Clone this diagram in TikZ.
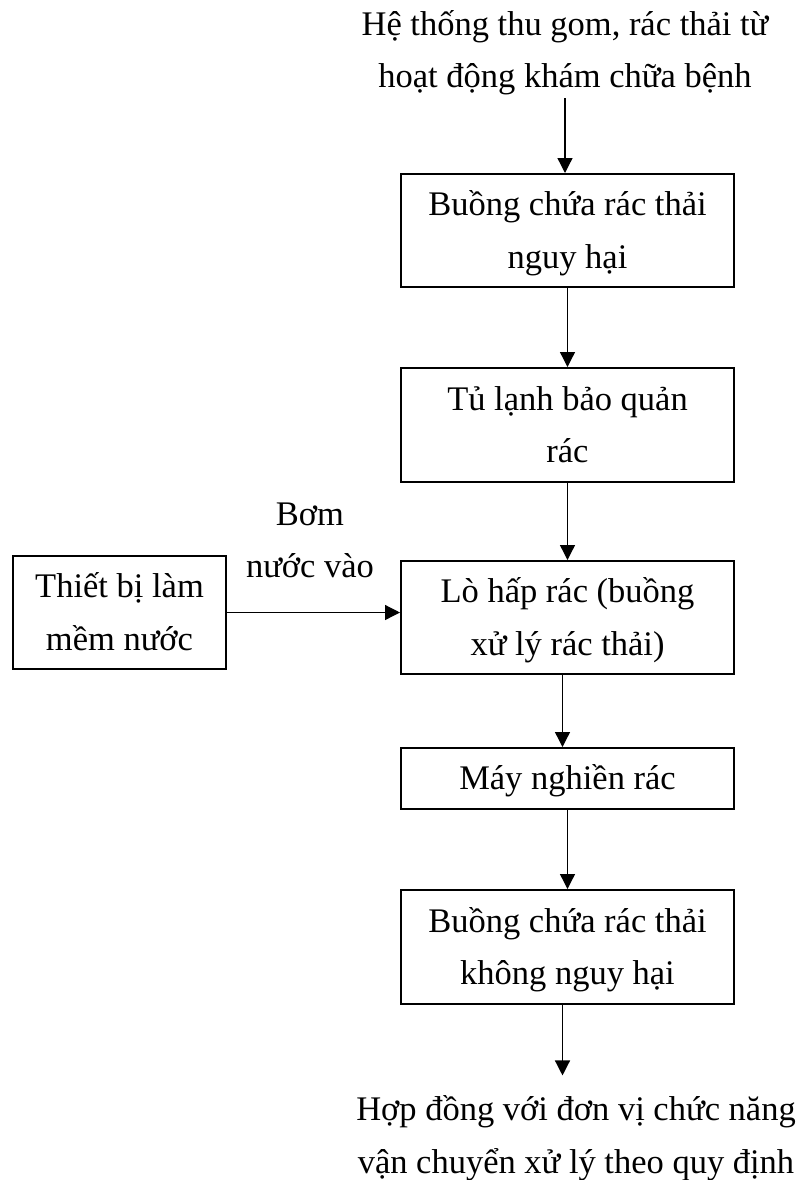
\documentclass[tikz,border=0pt]{standalone}
\usepackage{fontspec}
\setmainfont{Liberation Serif}
\usetikzlibrary{arrows.meta}
\begin{document}
\begin{tikzpicture}[x=0.5pt,y=-0.5pt,
  txt/.style={font=\fontsize{17.25pt}{26.25pt}\selectfont, align=center, inner sep=0pt},
  one/.style={text height=11.4pt, text depth=0pt},
  two/.style={text height=37.65pt, text depth=0pt},
  stepbox/.style={txt, draw, line width=1pt, minimum width=166.5pt},
  conn/.style={line width=0.65pt, -{Triangle[length=7.5pt,width=7.5pt]}}
]
\useasboundingbox (0,0) rectangle (800,1180);
\node[txt,two,inner ysep=5pt] (top) at (565,50) {Hệ thống thu gom, rác thải từ\\hoạt động khám chữa bệnh};
\node[stepbox,two,minimum height=56.5pt] (b1) at (567.5,230.5) {Buồng chứa rác thải\\nguy hại};
\node[stepbox,two,minimum height=57pt] (b2) at (567.5,425) {Tủ lạnh bảo quản\\rác};
\node[stepbox,two,minimum height=56.5pt] (b3) at (567.5,617.5) {Lò hấp rác (buồng\\xử lý rác thải)};
\node[stepbox,two,minimum width=106.5pt,minimum height=56.5pt] (soft) at (119.5,612.5) {Thiết bị làm\\mềm nước};
\node[txt,two] (pump) at (310,540) {Bơm\\nước vào};
\node[stepbox,one,minimum height=30.5pt] (b4) at (567.5,778.5) {Máy nghiền rác};
\node[stepbox,two,minimum height=57pt] (b5) at (567.5,947) {Buồng chứa rác thải\\không nguy hại};
\node[txt,two,inner ysep=11pt] (bot) at (576,1135.5) {Hợp đồng với đơn vị chức năng\\vận chuyển xử lý theo quy định};

\draw[conn] (top.south) -- (top.south |- b1.north);
\draw[conn] (b1.south) -- (b2.north);
\draw[conn] (b2.south) -- (b3.north);
\draw[conn] (soft.east) -- (soft.east -| b3.west);
\draw[conn] ([xshift=-2.5pt]b3.south) -- ([xshift=-2.5pt]b4.north);
\draw[conn] (b4.south) -- (b5.north);
\draw[conn] ([xshift=-2.5pt]b5.south) -- ([xshift=-2.5pt]b5.south |- bot.north);
\end{tikzpicture}
\end{document}
